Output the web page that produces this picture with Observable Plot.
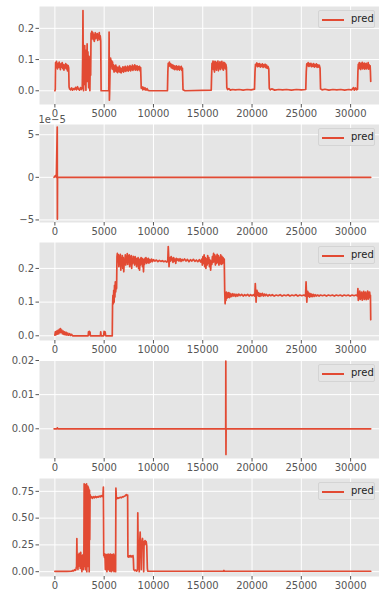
<!DOCTYPE html>
<html><head><meta charset="utf-8">
<script src="https://cdn.jsdelivr.net/npm/d3@7"></script>
<script src="https://cdn.jsdelivr.net/npm/@observablehq/plot@0.6"></script>
<style>
body{margin:0;background:#fff;font-family:"DejaVu Sans",sans-serif}
#chart{position:relative;width:379px;height:592px;overflow:hidden}
.panel{position:absolute;left:0}
.legend{position:absolute;left:318px;width:57px;height:18px;background:#E5E5E5;border:1px solid #d4d4d4;border-radius:2px;box-sizing:border-box}
.legend .sw{position:absolute;left:3px;top:8px;width:22px;height:1.7px;background:#E24A33}
.legend .lb{position:absolute;left:32px;top:2px;font-size:10px;line-height:12px;color:#222}
</style>
</head><body><div id="chart"></div>
<script>
const seriesName = "pred";
const xTicks = [0, 5000, 10000, 15000, 20000, 25000, 30000];

const pred1 = [
[0,0],[40,0.004],[70,0.09],[110,0.078],[160,0.094],[210,0.08],[260,0.07],[320,0.088],[380,0.075],[440,0.092],[500,0.079],[560,0.068],[620,0.086],[680,0.076],[740,0.09],[800,0.071],[860,0.084],[920,0.066],[980,0.082],[1040,0.073],[1100,0.087],[1160,0.07],[1220,0.083],[1280,0.064],[1340,0.081],[1400,0.074],
[1440,0.012],[1500,0.006],[1600,0.003],[1700,0.009],[1800,0.002],[1900,0.007],[2000,0.004],[2100,0.011],[2200,0.003],[2300,0.013],[2400,0.005],[2500,0.002],[2600,0.01],[2700,0.004],[2780,0.012],
[2820,0.11],[2850,0.257],[2880,0.06],[2910,0.0],[2950,0.11],[2990,0.06],[3030,0.145],[3070,0.02],[3110,0.1],[3150,0.002],[3190,0.13],[3230,0.07],[3270,0.15],[3310,0.03],[3350,0.125],[3390,0.08],[3430,0.01],[3470,0.11],[3510,0.04],[3550,0.0],[3590,0.09],[3630,0.05],
[3670,0.185],[3710,0.165],[3750,0.19],[3800,0.17],[3850,0.186],[3900,0.164],[3950,0.18],[4000,0.158],[4050,0.176],[4100,0.186],[4150,0.167],[4200,0.18],[4250,0.17],[4300,0.183],[4350,0.161],[4400,0.178],[4450,0.169],[4500,0.186],[4550,0.164],[4600,0.176],[4650,0.16],
[4690,0.0],[5470,0.0],[5500,0.188],[5530,-0.03],[5560,0.002],[5600,0.07],[5650,0.105],[5700,0.086],[5750,0.097],[5800,0.07],[5850,0.092],[5900,0.068],[5950,0.083],[6000,0.06],[6060,0.079],[6120,0.064],[6180,0.082],[6240,0.061],[6300,0.076],[6360,0.058],[6420,0.074],[6480,0.062],[6540,0.079],[6600,0.06],[6660,0.073],[6720,0.057],[6780,0.071],[6840,0.063],[6900,0.077],[6960,0.06],[7020,0.075],[7080,0.064],[7140,0.078],[7200,0.062],[7260,0.074],[7320,0.066],[7380,0.079],[7440,0.063],[7500,0.076],[7560,0.067],[7620,0.081],[7680,0.064],[7740,0.077],[7800,0.068],[7860,0.082],[7920,0.065],[7980,0.078],[8040,0.07],[8100,0.083],[8160,0.066],[8220,0.079],[8280,0.068],[8340,0.08],[8400,0.065],[8460,0.077],[8520,0.069],[8580,0.078],[8640,0.064],[8700,0.074],
[8760,0.008],[8840,0.013],[8920,0.003],[9000,0.011],[9080,0.004],[9160,0.009],[9250,0.002],[9350,0.007],[9450,0.001],[9600,0.0],[11420,0.0],
[11460,0.06],[11500,0.088],[11560,0.078],[11620,0.092],[11680,0.08],[11740,0.086],[11800,0.074],[11860,0.084],[11920,0.072],[11980,0.082],[12040,0.07],[12100,0.08],[12160,0.068],[12220,0.078],[12280,0.07],[12340,0.08],[12400,0.067],[12460,0.077],[12520,0.069],[12580,0.079],[12640,0.066],[12700,0.076],[12760,0.07],[12820,0.078],[12880,0.065],[12940,0.072],
[13000,0.003],[13200,0.0],[15860,0.002],
[15900,0.05],[15940,0.088],[15990,0.072],[16040,0.095],[16090,0.068],[16140,0.09],[16190,0.06],[16240,0.094],[16290,0.07],[16340,0.092],[16390,0.066],[16440,0.089],[16490,0.074],[16540,0.095],[16590,0.064],[16640,0.087],[16690,0.072],[16740,0.093],[16790,0.068],[16840,0.09],[16890,0.076],[16940,0.094],[16990,0.07],[17040,0.088],[17090,0.066],[17140,0.091],[17190,0.074],[17240,0.089],[17290,0.07],[17340,0.085],[17400,0.075],
[17440,0.01],[17520,0.004],[17650,0.007],[17800,0.002],[18000,0.004],[18300,0.003],[18700,0.004],[19100,0.002],[19500,0.004],[19900,0.003],[20250,0.005],
[20300,0.06],[20350,0.085],[20420,0.08],[20490,0.089],[20560,0.077],[20630,0.086],[20700,0.079],[20770,0.087],[20840,0.076],[20910,0.084],[20980,0.078],[21050,0.086],[21120,0.075],[21190,0.083],[21260,0.077],[21330,0.085],[21400,0.074],[21470,0.082],[21540,0.072],[21620,0.078],[21700,0.07],
[21750,0.008],[21850,0.003],[22000,0.006],[22300,0.002],[22700,0.004],[23100,0.003],[23500,0.004],[24000,0.002],[24500,0.004],[25000,0.003],[25450,0.004],
[25500,0.06],[25550,0.086],[25620,0.08],[25690,0.09],[25760,0.078],[25830,0.087],[25900,0.08],[25970,0.088],[26040,0.077],[26110,0.085],[26180,0.079],[26250,0.087],[26320,0.076],[26390,0.084],[26460,0.078],[26530,0.086],[26600,0.075],[26670,0.083],[26740,0.076],[26820,0.082],[26900,0.072],
[26950,0.006],[27100,0.003],[27400,0.005],[27800,0.002],[28200,0.004],[28600,0.003],[29000,0.004],[29400,0.002],[29800,0.004],[30100,0.003],[30300,0.01],[30380,0.002],[30500,0.009],[30600,0.003],[30700,0.005],
[30740,0.06],[30780,0.085],[30830,0.07],[30880,0.09],[30930,0.072],[30980,0.088],[31030,0.068],[31080,0.087],[31130,0.074],[31180,0.091],[31230,0.07],[31280,0.086],[31330,0.073],[31380,0.089],[31430,0.069],[31480,0.085],[31530,0.072],[31580,0.088],[31630,0.07],[31680,0.084],[31730,0.074],[31780,0.09],[31830,0.069],[31880,0.083],[31930,0.072],[31980,0.08],[32010,0.06],[32040,0.03]
];

const pred2 = [[-80,0],[60,0.2e-5],[150,0],[240,5.9e-5],[255,-4.9e-5],[270,0],[32040,0]];

const pred3 = [
[0,0.002],[50,0.012],[110,0.003],[170,0.014],[240,0.005],[310,0.016],[380,0.006],[450,0.019],[510,0.009],[570,0.021],[630,0.01],[700,0.017],[770,0.006],[840,0.014],[910,0.004],[980,0.012],[1060,0.003],[1140,0.01],[1220,0.002],[1300,0.008],[1400,0.002],[1500,0.006],[1600,0.001],[1700,0.004],[1800,0.0],
[3380,0.0],[3410,0.012],[3450,0.003],[3490,0.013],[3530,0.004],[3570,0.011],[3600,0.0],[4620,0.0],[4650,0.012],[4690,0.0],[4950,0.0],[4990,0.013],[5040,0.003],[5090,0.012],[5140,0.004],[5170,0.0],[5820,0.0],
[5850,0.09],[5890,0.12],[5930,0.095],[5970,0.135],[6010,0.1],[6050,0.15],[6090,0.115],[6130,0.16],[6170,0.13],[6210,0.15],[6260,0.14],
[6300,0.235],[6340,0.245],[6390,0.22],[6440,0.24],[6490,0.205],[6540,0.235],[6590,0.215],[6640,0.242],[6690,0.195],[6740,0.23],[6790,0.21],[6840,0.238],[6890,0.2],[6940,0.232],[6990,0.19],[7040,0.225],[7090,0.215],[7140,0.24],[7190,0.21],[7240,0.235],[7290,0.218],[7340,0.244],[7390,0.212],[7440,0.236],[7490,0.222],[7540,0.24],[7590,0.205],[7640,0.232],[7690,0.215],[7740,0.238],[7790,0.2],[7840,0.228],[7890,0.214],[7940,0.236],[7990,0.218],[8040,0.232],[8090,0.21],[8140,0.235],[8190,0.215],[8240,0.23],[8290,0.205],[8340,0.228],[8390,0.212],[8440,0.232],[8490,0.2],[8540,0.226],[8590,0.195],[8640,0.228],[8690,0.21],[8740,0.232],[8790,0.214],[8840,0.23],[8890,0.205],[8940,0.228],[8990,0.19],[9040,0.225],[9090,0.212],[9140,0.23],[9190,0.218],[9240,0.232],[9300,0.215],[9360,0.228],[9420,0.218],[9480,0.23],[9540,0.216],[9600,0.226],[9700,0.219],[9800,0.228],[9900,0.22],[10000,0.226],[10150,0.222],[10300,0.225],[10450,0.22],[10600,0.224],[10750,0.221],[10900,0.223],[11050,0.22],[11200,0.222],[11350,0.219],[11450,0.221],
[11500,0.265],[11540,0.24],[11580,0.205],[11620,0.225],[11680,0.232],[11740,0.222],[11800,0.235],[11860,0.225],[11920,0.23],[11980,0.218],[12050,0.232],[12120,0.222],[12190,0.228],[12260,0.215],[12330,0.23],[12400,0.224],[12500,0.228],[12600,0.222],[12700,0.229],[12800,0.221],[12900,0.227],[13000,0.223],[13150,0.228],[13300,0.222],[13450,0.227],[13600,0.22],[13750,0.226],[13900,0.222],[14050,0.227],[14200,0.221],[14350,0.225],[14500,0.22],[14650,0.226],[14800,0.219],[14900,0.228],
[14960,0.21],[15020,0.235],[15080,0.215],[15140,0.24],[15200,0.205],[15260,0.232],[15320,0.2],[15380,0.228],[15440,0.21],[15500,0.238],[15560,0.215],[15620,0.232],[15680,0.205],[15740,0.225],[15800,0.195],[15860,0.222],[15920,0.212],[15980,0.235],[16040,0.218],[16100,0.245],[16160,0.22],[16220,0.24],[16280,0.21],[16340,0.236],[16400,0.215],[16460,0.242],[16520,0.218],[16580,0.238],[16640,0.21],[16700,0.232],[16760,0.215],[16820,0.24],[16880,0.212],[16940,0.236],[17000,0.214],[17060,0.232],[17120,0.218],[17180,0.228],
[17230,0.13],[17270,0.095],[17310,0.125],[17350,0.105],[17400,0.13],[17460,0.112],[17520,0.127],[17580,0.115],[17640,0.128],[17700,0.113],[17760,0.126],[17820,0.116],[17880,0.124],[17950,0.117],[18050,0.125],[18150,0.118],[18250,0.124],[18350,0.117],[18450,0.123],[18550,0.118],[18650,0.124],[18800,0.119],[18950,0.123],[19100,0.118],[19250,0.122],[19400,0.119],[19550,0.123],[19700,0.118],[19850,0.122],[20000,0.119],[20150,0.122],[20280,0.118],
[20330,0.155],[20370,0.13],[20410,0.1],[20450,0.125],[20500,0.135],[20560,0.12],[20620,0.128],[20680,0.118],[20740,0.126],[20800,0.117],[20870,0.125],[20950,0.119],[21050,0.126],[21150,0.118],[21250,0.124],[21350,0.119],[21450,0.123],[21600,0.118],[21750,0.122],[21900,0.119],[22050,0.122],[22250,0.118],[22450,0.121],[22650,0.119],[22850,0.122],[23050,0.118],[23250,0.121],[23450,0.119],[23650,0.122],[23850,0.118],[24050,0.121],[24250,0.119],[24450,0.122],[24650,0.118],[24850,0.121],[25050,0.119],[25250,0.121],[25430,0.118],
[25480,0.16],[25520,0.13],[25560,0.1],[25600,0.125],[25650,0.132],[25710,0.118],[25770,0.127],[25830,0.115],[25890,0.125],[25950,0.117],[26020,0.124],[26100,0.116],[26200,0.123],[26300,0.117],[26400,0.122],[26500,0.118],[26650,0.121],[26800,0.118],[26950,0.121],[27150,0.119],[27350,0.121],[27550,0.118],[27750,0.121],[27950,0.119],[28150,0.121],[28350,0.118],[28550,0.121],[28750,0.119],[28950,0.121],[29150,0.118],[29350,0.121],[29550,0.119],[29750,0.121],[29950,0.118],[30150,0.121],[30350,0.119],[30550,0.121],[30700,0.118],
[30740,0.14],[30780,0.105],[30830,0.128],[30880,0.11],[30930,0.133],[30980,0.108],[31030,0.126],[31080,0.112],[31130,0.13],[31180,0.106],[31230,0.125],[31280,0.114],[31330,0.132],[31380,0.108],[31430,0.127],[31480,0.112],[31530,0.13],[31580,0.107],[31630,0.124],[31680,0.11],[31730,0.133],[31780,0.109],[31830,0.128],[31880,0.113],[31930,0.13],[31980,0.115],[32010,0.12],[32040,0.048]
];

const pred4 = [[-80,0],[200,0],[250,0.0003],[300,0],[17330,0],[17340,0.0198],[17355,-0.0075],[17370,0],[32040,0]];

const pred5 = [
[0,0.003],[600,0.004],[1200,0.003],[1700,0.005],[1800,0.01],[1900,0.008],[2000,0.018],[2100,0.012],[2150,0.03],[2200,0.05],[2230,0.31],[2260,0.1],[2300,0.16],[2340,0.02],[2380,0.13],[2420,0.05],[2460,0.17],[2500,0.1],[2540,0.15],[2580,0.03],[2620,0.18],[2660,0.12],[2700,0.15],[2740,0.0],[2780,0.14],[2820,0.06],[2860,0.16],[2900,0.02],[2940,0.12],
[2970,0.82],[3000,0.05],[3030,0.8],[3060,0.1],[3090,0.81],[3120,0.02],[3150,0.79],[3180,0.15],[3210,0.82],[3240,0.0],[3270,0.78],[3300,0.2],[3330,0.8],[3360,0.05],[3390,0.79],[3420,0.12],[3450,0.77],[3480,0.0],[3510,0.76],[3540,0.3],[3570,0.72],
[3620,0.69],[3700,0.7],[3800,0.685],[3900,0.7],[4000,0.69],[4100,0.703],[4200,0.692],[4300,0.701],[4400,0.695],[4500,0.705],[4600,0.698],[4700,0.71],[4800,0.702],[4880,0.715],
[4920,0.79],[4960,0.15],[5000,0.17],[5040,0.13],[5080,0.165],[5120,0.02],[5160,0.15],[5200,0.135],[5240,0.16],[5280,0.0],[5320,0.155],[5360,0.14],[5400,0.165],[5440,0.02],[5480,0.15],[5520,0.16],[5560,0.005],[5600,0.14],[5640,0.165],[5680,0.13],[5720,0.0],[5760,0.155],[5800,0.16],[5840,0.01],[5880,0.15],[5920,0.14],[5960,0.165],[6000,0.0],[6040,0.155],[6080,0.03],[6120,0.15],[6160,0.0],
[6190,0.78],[6230,0.7],[6280,0.68],[6350,0.69],[6450,0.685],[6550,0.69],[6650,0.695],[6750,0.69],[6850,0.7],[6950,0.698],[7050,0.705],[7150,0.71],[7250,0.72],[7320,0.71],[7380,0.715],
[7410,0.14],[7450,0.15],[7500,0.135],[7560,0.148],[7620,0.14],[7680,0.15],[7740,0.138],[7800,0.146],[7860,0.14],[7920,0.15],[7960,0.12],
[8000,0.02],[8100,0.01],[8200,0.015],[8300,0.005],[8380,0.02],
[8410,0.55],[8440,0.3],[8480,0.25],[8520,0.28],[8560,0.0],[8600,0.26],[8650,0.37],[8690,0.24],[8730,0.28],[8770,0.02],[8810,0.25],[8850,0.29],[8890,0.31],[8930,0.26],[8970,0.27],[9010,0.0],[9050,0.28],[9100,0.25],[9150,0.29],[9200,0.26],[9260,0.28],[9320,0.24],[9380,0.03],
[9420,0.005],[11000,0.004],[14000,0.004],[17100,0.004],[17150,0.012],[17200,0.004],[20000,0.004],[25000,0.004],[32040,0.004]
];

const panels = [
  {data: pred1, domain: [-0.044, 0.270], ticks: [0, 0.1, 0.2], fmt: d3.format(".1f")},
  {data: pred2, domain: [-5.3e-5, 6.2e-5], ticks: [-5e-5, 0, 5e-5], fmt: d => d3.format("d")(Math.round(d * 1e5)), offset: "1e\u22125"},
  {data: pred3, domain: [-0.014, 0.277], ticks: [0, 0.1, 0.2], fmt: d3.format(".1f")},
  {data: pred4, domain: [-0.0087, 0.0200], ticks: [0, 0.01, 0.02], fmt: d3.format(".2f")},
  {data: pred5, domain: [-0.045, 0.87], ticks: [0, 0.25, 0.5, 0.75], fmt: d3.format(".2f")}
];

const chart = document.getElementById("chart");
const H = 118;
panels.forEach((p, i) => {
  const marks = [
    Plot.frame({fill: "#E5E5E5", stroke: null}),
    Plot.gridX({ticks: xTicks, stroke: "white", strokeOpacity: 1, strokeWidth: 1}),
    Plot.gridY({ticks: p.ticks, stroke: "white", strokeOpacity: 1, strokeWidth: 1}),
    Plot.line(p.data, {x: d => d[0], y: d => d[1], stroke: "#E24A33", strokeWidth: 1.7}),
    Plot.axisX({ticks: xTicks, tickFormat: d3.format("d"), tickSize: 3.5, tickPadding: 2, label: null, stroke: "#555", fill: "#555"}),
    Plot.axisY({ticks: p.ticks, tickFormat: p.fmt, tickSize: 3.5, tickPadding: 2, label: null, stroke: "#555", fill: "#555"})
  ];
  if (p.offset) {
    marks.push(Plot.text([p.offset], {text: d => d, frameAnchor: "top-left", textAnchor: "start", dx: -1, dy: -9, fill: "#555", fontSize: 10}));
  }
  const svg = Plot.plot({
    width: 379, height: H,
    marginLeft: 39, marginRight: 0, marginTop: 6, marginBottom: 14,
    style: {background: "transparent", overflow: "visible", fontFamily: "DejaVu Sans", fontSize: "10px", color: "#555"},
    x: {domain: [-1560, 32930]},
    y: {domain: p.domain},
    marks
  });
  svg.classList.add("panel");
  svg.style.top = (i * H) + "px";
  chart.appendChild(svg);
  const lg = document.createElement("div");
  lg.className = "legend";
  lg.style.top = (i * H + 10) + "px";
  lg.innerHTML = '<div class="sw"></div><div class="lb">' + seriesName + '</div>';
  chart.appendChild(lg);
});
</script>
</body></html>
